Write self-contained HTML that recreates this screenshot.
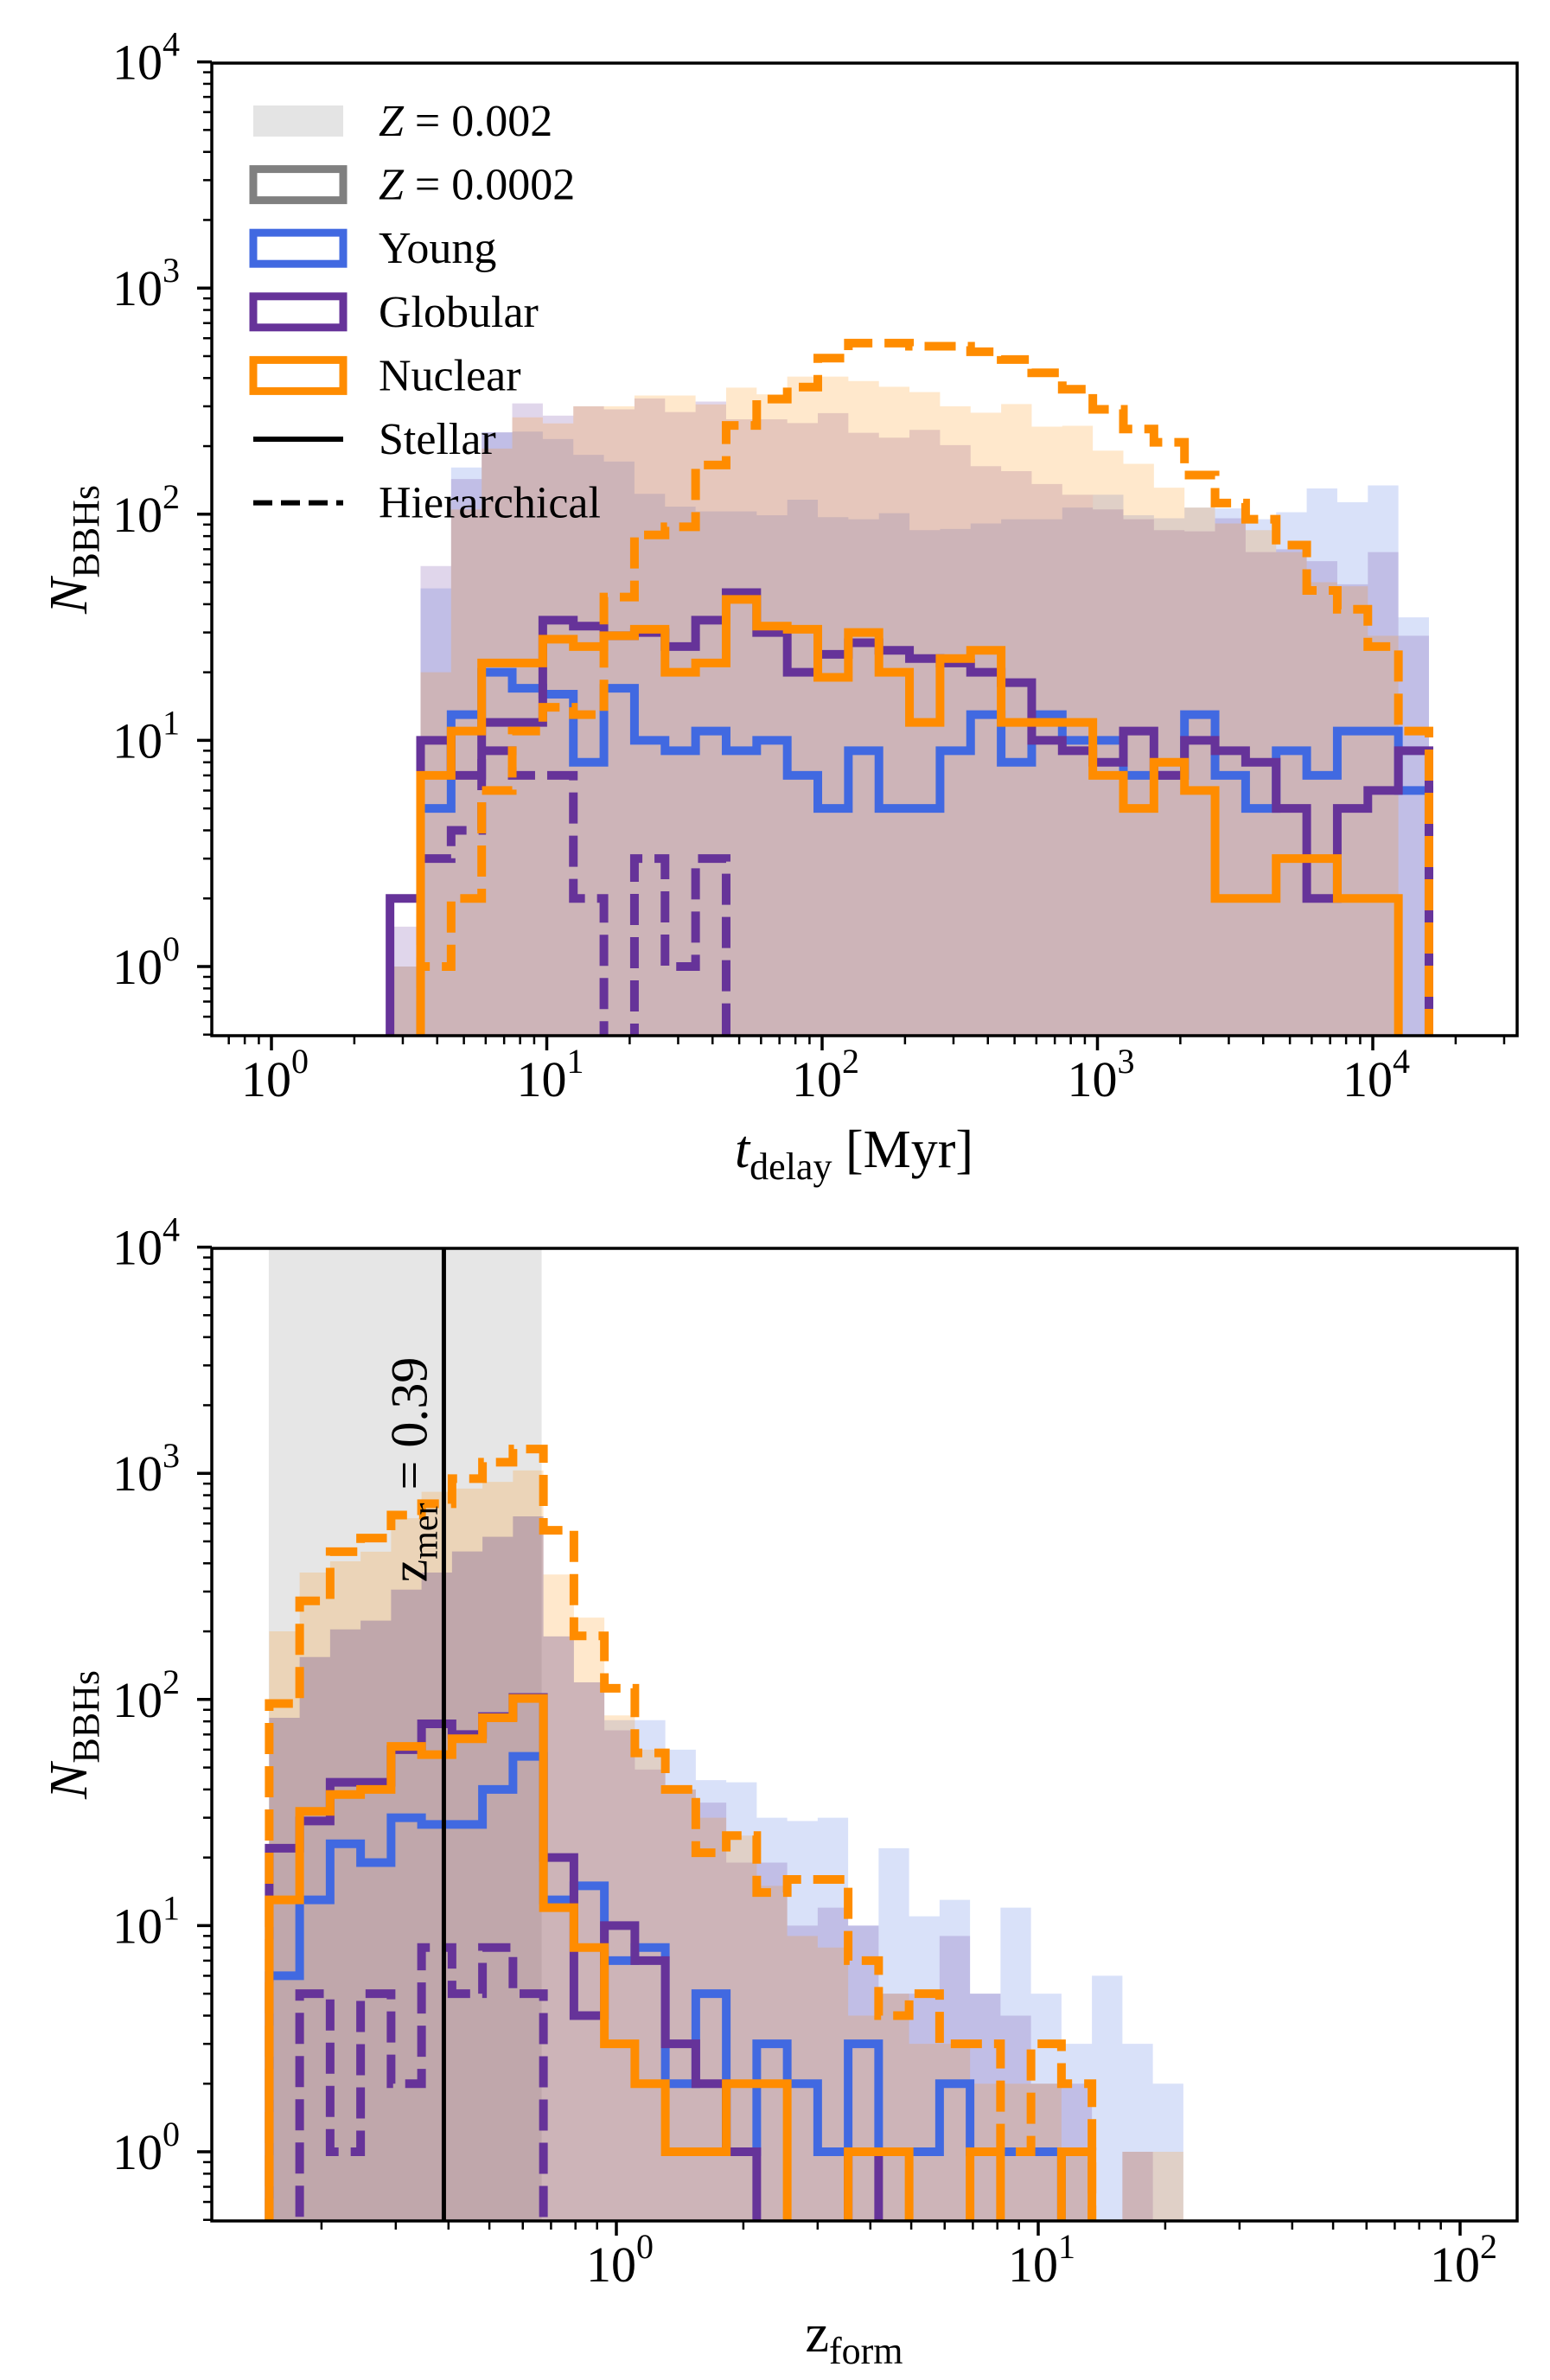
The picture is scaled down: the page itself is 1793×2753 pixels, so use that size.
<!DOCTYPE html>
<html><head><meta charset="utf-8"><style>
html,body{margin:0;padding:0;background:#fff;}
svg{display:block;font-family:"Liberation Serif","DejaVu Serif",serif;}
</style></head><body>
<svg id="fig" xmlns="http://www.w3.org/2000/svg" width="1793" height="2753" viewBox="0 0 1793 2753">
<defs>
<clipPath id="clipTop"><rect x="245" y="73" width="1510" height="1125"/></clipPath>
<clipPath id="clipBot"><rect x="245" y="1444" width="1510" height="1124"/></clipPath>
</defs>
<g id="top"></g>
<g id="bot"></g>
</svg>
<script>
// ---------- TOP PANEL DATA (t_delay, log bins) ----------
const tBinLo = 0.4306, tBinHi = 4.204;
const tYoungFill   = [1,47,161,230,232,215,183,171,123,108,103,103,99,116,97,95,101,85,86,91,95,95,107,122,99,96,107,106,95,102,130,113,134,35];
const tGlobularFill= [1.5,59,143,230,309,273,300,291,325,283,315,263,263,253,280,229,218,236,202,163,155,136,122,105,95,85,84,96,68,70,62,49,68,29];
const tNuclearFill = [1,20,105,195,268,252,300,300,335,335,306,363,339,406,406,388,366,347,300,281,307,244,246,191,167,131,107,91,85,68,50,48,29,0];
const tYoungLine   = [0,5,13,20,17,16,8,17,10,9,11,9,10,7,5,9,5,5,9,13,8,13,10,10,7,7,13,7,5,9,7,11,11,6];
const tGlobularLine= [2,10,7,12,12,34,32,29,30,26,34,45,30,20,24,27,25,23,22,20,18,10,9,8,11,7,10,9,8,5,2,5,6,9];
const tNuclearLine = [0,7,11,22,22,28,26,29,31,20,22,42,32,31,19,30,20,12,23,25,12,12,12,7,5,8,6,2,2,3,3,2,2,0];
const tNuclearHier = [0,1,2,6,11,14,13,43,81,88,165,247,323,365,490,571,571,553,553,523,483,422,357,291,238,208,149,112,95,73,46,38,26,11];
const tGlobularHier= [0,3,4,9,7,7,2,0,3,1,3,0,0,0,0,0,0,0,0,0,0,0,0,0,0,0,0,0,0,0,0,0,0,0];
const tXTicks = [0,1,2,3,4];
// ---------- BOTTOM PANEL DATA (z_form, log bins) ----------
const zBinLo = -0.823, zBinHi = 1.344;
const zYoungFill   = [83,154,204,223,306,364,451,524,645,190,119,81,81,60,44,43,30,29,30,10,22,11,13,5,12,5,3,6,3,2];
const zGlobularFill= [83,154,204,223,306,364,451,524,645,190,119,73,49,40,35,19,19,10,12,10,5,5,9,5,4,2,2,0,1,0];
const zNuclearFill = [200,364,408,450,633,828,856,916,1030,357,230,85,60,40,30,25,15,9,8,4,5,3,3,2,2,2,1,0,1,1];
const zYoungLine   = [6,13,23,19,30,28,28,40,56,13,15,7,8,2,5,1,3,2,1,3,1,1,2,1,1,1,0,0,0,0];
const zGlobularLine= [22,29,43,43,60,78,70,84,102,20,4,10,7,3,2,1,0,0,0,1,0,0,0,0,0,0,0,0,0,0];
const zNuclearLine = [13,32,38,40,62,57,67,83,101,12,8,3,2,1,1,2,2,0,0,1,1,0,0,1,0,0,1,0,0,0];
const zNuclearHier = [96,273,450,517,654,734,947,1120,1280,560,191,112,58,40,21,25,14,16,16,7,4,5,3,3,1,3,2,0,0,0];
const zGlobularHier= [0,5,1,5,2,8,5,8,5,0,0,0,0,0,0,0,0,0,0,0,0,0,0,0,0,0,0,0,0,0];
const zXTicks = [0,1,2];
const zMerger = 0.39;
const zBand = [0.15, 0.665];
const yTicks = [0,1,2,3,4];

const NS="http://www.w3.org/2000/svg";
const C={blue:"#4169e1",purple:"#663399",orange:"#ff8c00"};
function mk(tag,attrs,parent){const e=document.createElementNS(NS,tag);for(const k in attrs)e.setAttribute(k,attrs[k]);if(parent)parent.appendChild(e);return e;}

function panel(g,cfg){
  const L=245,R=1755,T=cfg.top,B=cfg.top+1125;
  const X=v=>cfg.x0+cfg.dx*v;
  const Y=n=>(cfg.top+1045)-261.6*Math.log10(n);
  const Yc=n=>n>0?Y(n):B+60;
  const edges=(lo,hi,n)=>{const a=[];for(let i=0;i<=n;i++)a.push(lo+(hi-lo)*i/n);return a;};
  const E=edges(cfg.lo,cfg.hi,cfg.n);
  const clip=mk("g",{"clip-path":"url(#"+cfg.clip+")"},g);
  
  
  if(cfg.band){
    const b=mk("rect",{x:X(Math.log10(cfg.band[0])),y:T,width:X(Math.log10(cfg.band[1]))-X(Math.log10(cfg.band[0])),height:B-T,fill:"#808080","fill-opacity":0.2},clip);
    
    
  }
  function stepPath(vals){
    let d="M"+X(E[0])+","+(B+60);
    vals.forEach((v,i)=>{d+=" L"+X(E[i])+","+Yc(v)+" L"+X(E[i+1])+","+Yc(v);});
    d+=" L"+X(E[vals.length])+","+(B+60);
    return d;
  }
  cfg.fills.forEach(f=>{
    const p=mk("path",{d:stepPath(f.v)+" Z",fill:f.c,"fill-opacity":0.2,stroke:"none"},clip);
    
    
  });
  cfg.lines.forEach(f=>{
    const a={d:stepPath(f.v),fill:"none",stroke:f.c,"stroke-width":10,"stroke-linejoin":"miter"};
    if(f.dash)a["stroke-dasharray"]="36 14";
    const p=mk("path",a,clip);
    
    
  });
  if(cfg.vline){
    const vx=X(Math.log10(cfg.vline));
    const l=mk("line",{x1:vx,x2:vx,y1:T,y2:B,stroke:"#000","stroke-width":5},clip);
    
    
    const t=mk("text",{x:0,y:0,"font-size":60,transform:"translate("+(vx-20)+",1700) rotate(-90)","text-anchor":"middle"},g);
    
    
    t.innerHTML='<tspan>z</tspan><tspan font-size="42" dy="12">mer</tspan><tspan dy="-12"> = 0.39</tspan>';
  }
  const fr=mk("rect",{x:L,y:T,width:R-L,height:B-T,fill:"none",stroke:"#000","stroke-width":3.5},g);
  
  
  const yl=Math.log10(0.5);
  for(let d=-1;d<=4;d++){for(let m=1;m<=9;m++){const v=m*Math.pow(10,d);const lv=Math.log10(v);if(lv<yl-1e-9||lv>4+1e-9)continue;
    const y=Y(v);const len=m===1?17:10;
    const tk=mk("line",{x1:L-len,x2:L,y1:y,y2:y,stroke:"#000","stroke-width":m===1?3.5:2.5},g);
    
    }}
  yTicks.forEach(e=>{const t=mk("text",{x:208,y:Y(Math.pow(10,e))+20,"font-size":58,"text-anchor":"end"},g);
    
    
    t.innerHTML='10<tspan font-size="40" dy="-27">'+e+'</tspan>';});
  const xl=(L-cfg.x0)/cfg.dx, xr=(R-cfg.x0)/cfg.dx;
  for(let d=-2;d<=5;d++){for(let m=1;m<=9;m++){const lv=Math.log10(m*Math.pow(10,d));if(lv<xl||lv>xr)continue;
    const x=X(lv);const len=m===1?17:10;
    const tk=mk("line",{x1:x,x2:x,y1:B,y2:B+len,stroke:"#000","stroke-width":m===1?3.5:2.5},g);
    
    }}
  cfg.xticks.forEach(e=>{const t=mk("text",{x:X(e)+4,y:B+70,"font-size":58,"text-anchor":"middle"},g);
    
    
    t.innerHTML='10<tspan font-size="40" dy="-27">'+e+'</tspan>';});
  const yt=mk("text",{x:0,y:0,"font-size":62,"text-anchor":"middle",transform:"translate(100,"+((T+B)/2)+") rotate(-90)"},g);
  
  
  yt.innerHTML='<tspan font-style="italic">N</tspan><tspan font-size="44" dy="14">BBHs</tspan>';
  const xt=mk("text",{x:988,y:cfg.xlabY,"font-size":62,"text-anchor":"middle"},g);
  
  
  xt.innerHTML=cfg.xlab;
}

panel(document.getElementById("top"),{top:73,x0:314,dx:318.5,lo:tBinLo,hi:tBinHi,n:34,clip:"clipTop",xticks:tXTicks,xlabY:1350,
  xlab:'<tspan font-style="italic">t</tspan><tspan font-size="44" dy="14">delay</tspan><tspan dy="-14"> [Myr]</tspan>',
  fills:[{v:tYoungFill,c:C.blue,name:'young-fill'},{v:tGlobularFill,c:C.purple,name:'globular-fill'},{v:tNuclearFill,c:C.orange,name:'nuclear-fill'}],
  lines:[{v:tYoungLine,c:C.blue,name:'young-stellar-line'},{v:tGlobularLine,c:C.purple,name:'globular-stellar-line'},{v:tGlobularHier,c:C.purple,dash:1,name:'globular-hierarchical-line'},{v:tNuclearLine,c:C.orange,name:'nuclear-stellar-line'},{v:tNuclearHier,c:C.orange,dash:1,name:'nuclear-hierarchical-line'}]});
panel(document.getElementById("bot"),{top:1444,x0:713,dx:488,lo:zBinLo,hi:zBinHi,n:30,clip:"clipBot",xticks:zXTicks,xlabY:2720,band:zBand,vline:zMerger,
  xlab:'<tspan>z</tspan><tspan font-size="44" dy="14">form</tspan>',
  fills:[{v:zYoungFill,c:C.blue,name:'young-fill'},{v:zGlobularFill,c:C.purple,name:'globular-fill'},{v:zNuclearFill,c:C.orange,name:'nuclear-fill'}],
  lines:[{v:zYoungLine,c:C.blue,name:'young-stellar-line'},{v:zGlobularLine,c:C.purple,name:'globular-stellar-line'},{v:zGlobularHier,c:C.purple,dash:1,name:'globular-hierarchical-line'},{v:zNuclearLine,c:C.orange,name:'nuclear-stellar-line'},{v:zNuclearHier,c:C.orange,dash:1,name:'nuclear-hierarchical-line'}]});

(function(){
  const g=mk("g",{},document.getElementById("top"));
  
  
  const items=[["fill","#e4e4e4","Z = 0.002",1],["box","#808080","Z = 0.0002",1],["box",C.blue,"Young"],["box",C.purple,"Globular"],["box",C.orange,"Nuclear"],["line","#000","Stellar"],["dash","#000","Hierarchical"]];
  items.forEach((it,i)=>{
    const cy=140+73.6*i;
    const e=mk("g",{},g);
    
    
    if(it[0]==="fill")mk("rect",{x:293,y:cy-18,width:104,height:36,fill:it[1]},e);
    if(it[0]==="box")mk("rect",{x:293,y:cy-18,width:104,height:36,fill:"none",stroke:it[1],"stroke-width":9},e);
    if(it[0]==="line")mk("line",{x1:293,x2:397,y1:cy,y2:cy,stroke:"#000","stroke-width":6},e);
    if(it[0]==="dash")mk("line",{x1:293,x2:397,y1:cy,y2:cy,stroke:"#000","stroke-width":6,"stroke-dasharray":"22 10"},e);
    const t=mk("text",{x:438,y:cy+17,"font-size":52},e);
    if(it[3])t.innerHTML='<tspan font-style="italic">Z</tspan>'+it[2].slice(1);else t.textContent=it[2];
  });
})();
</script>
</body></html>
